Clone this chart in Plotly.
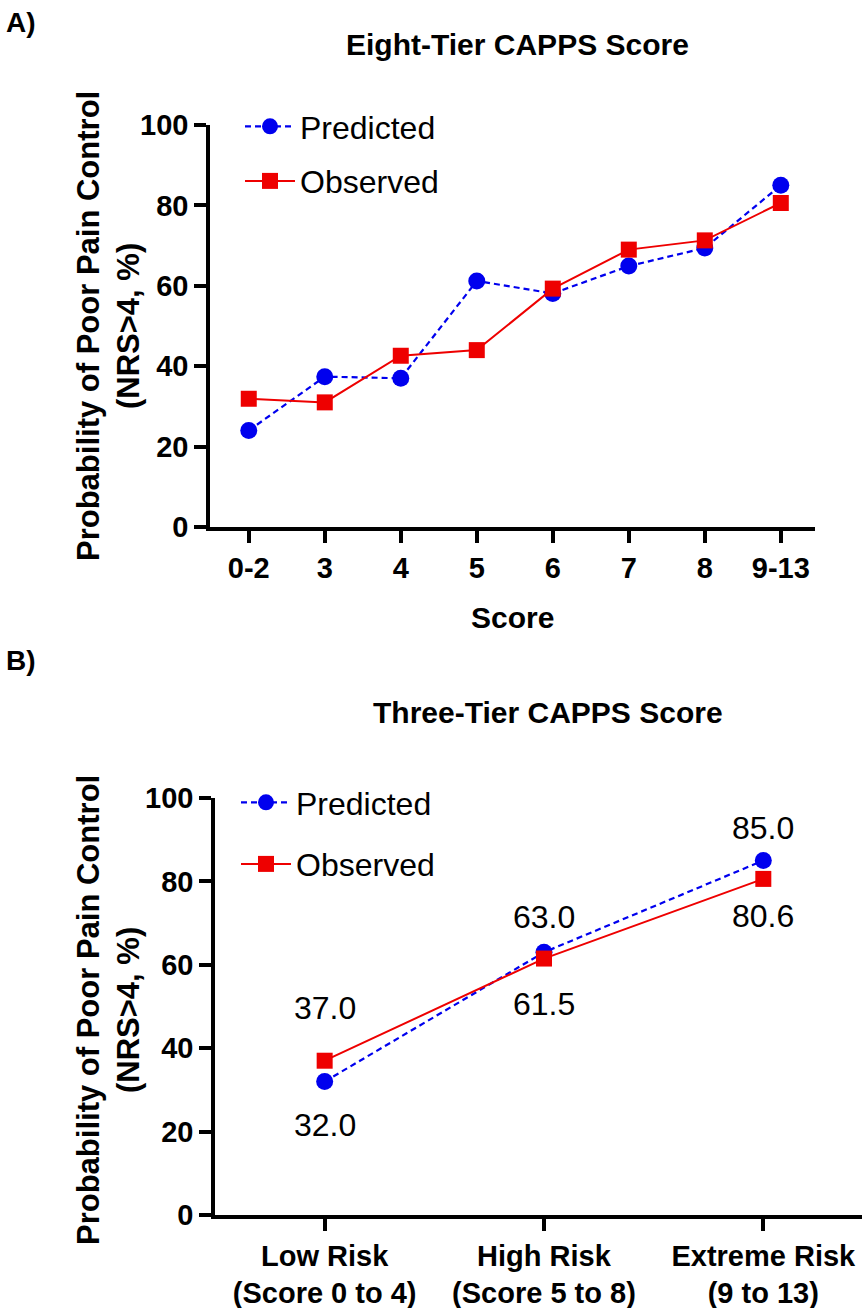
import plotly.graph_objects as go

# Eight-tier score: categories and probabilities (%)
eight_labels = ["0-2", "3", "4", "5", "6", "7", "8", "9-13"]
eight_predicted = [24.0, 37.4, 37.0, 61.2, 58.1, 64.9, 69.4, 85.0]
eight_observed = [31.9, 31.0, 42.6, 44.0, 59.3, 69.0, 71.3, 80.6]

# Three-tier score: risk groups and probabilities (%)
three_labels = ["Low Risk<br>(Score 0 to 4)", "High Risk<br>(Score 5 to 8)",
                "Extreme Risk<br>(9 to 13)"]
three_predicted = [32.0, 63.0, 85.0]
three_observed = [37.0, 61.5, 80.6]

# value-label offsets in screen pixels (positive = below the marker)
pred_label_offset = [43, -35, -33]
obs_label_offset = [-53, 45, 37]

W, H = 862, 1308
FONT = "Liberation Sans, Arial, Helvetica, sans-serif"
BLUE = "#0000ee"
RED = "#ee0000"


def px_x(p):
    return p / W


def px_y(p):
    return 1 - p / H


fig = go.Figure()

xa = list(range(len(eight_labels)))
xb = list(range(len(three_labels)))

fig.add_trace(go.Scatter(
    x=xa, y=eight_predicted, name="Predicted", mode="lines+markers",
    line=dict(color=BLUE, width=2.2, dash="6px,4px"),
    marker=dict(symbol="circle", size=17, color=BLUE),
    xaxis="x", yaxis="y", legend="legend", cliponaxis=False,
    legendgroup="pa",
))
fig.add_trace(go.Scatter(
    x=xa, y=eight_observed, name="Observed", mode="lines+markers",
    line=dict(color=RED, width=2),
    marker=dict(symbol="square", size=16, color=RED),
    xaxis="x", yaxis="y", legend="legend", cliponaxis=False,
    legendgroup="oa",
))
fig.add_trace(go.Scatter(
    x=xb, y=three_predicted, name="Predicted", mode="lines+markers",
    line=dict(color=BLUE, width=2.2, dash="6px,4px"),
    marker=dict(symbol="circle", size=17, color=BLUE),
    xaxis="x2", yaxis="y2", legend="legend2", cliponaxis=False,
    legendgroup="pb",
))
fig.add_trace(go.Scatter(
    x=xb, y=three_observed, name="Observed", mode="lines+markers",
    line=dict(color=RED, width=2),
    marker=dict(symbol="square", size=16, color=RED),
    xaxis="x2", yaxis="y2", legend="legend2", cliponaxis=False,
    legendgroup="ob",
))

axis_common = dict(
    showline=True, linecolor="black", linewidth=3.5,
    ticks="outside", ticklen=12, tickwidth=3.5, tickcolor="black",
    showgrid=False, zeroline=False, automargin=False,
    tickfont=dict(family=FONT, size=29, color="black", weight="bold"),
)

fig.update_layout(
    width=W, height=H,
    margin=dict(l=0, r=0, t=0, b=0, autoexpand=False),
    paper_bgcolor="white", plot_bgcolor="white",
    showlegend=True,
    xaxis=dict(domain=[px_x(210), px_x(815)], range=[-0.51, 7.45],
               tickmode="array", tickvals=xa, ticktext=eight_labels,
               anchor="y", **axis_common),
    yaxis=dict(domain=[px_y(527), px_y(125)], range=[0, 100],
               tickmode="linear", tick0=0, dtick=20, anchor="x",
               **axis_common),
    xaxis2=dict(domain=[px_x(215), 1.0], range=[-0.5, 2.45],
                tickmode="array", tickvals=xb, ticktext=three_labels,
                anchor="y2", **axis_common),
    yaxis2=dict(domain=[px_y(1215), px_y(798)], range=[0, 100],
                tickmode="linear", tick0=0, dtick=20, anchor="x2",
                **axis_common),
    legend=dict(x=px_x(240), y=px_y(99), xanchor="left", yanchor="top",
                bgcolor="rgba(0,0,0,0)", font=dict(family=FONT, size=32, color="black"),
                tracegroupgap=10, itemwidth=50, traceorder="grouped"),
    legend2=dict(x=px_x(236), y=px_y(775), xanchor="left", yanchor="top",
                 bgcolor="rgba(0,0,0,0)", font=dict(family=FONT, size=32, color="black"),
                 tracegroupgap=17, itemwidth=50, traceorder="grouped"),
)

annotations = []


def text_ann(txt, x, y, size, bold=True, angle=0, xanchor="center"):
    annotations.append(dict(
        text=txt, x=px_x(x), y=px_y(y), xref="paper", yref="paper",
        showarrow=False, xanchor=xanchor, yanchor="middle", textangle=angle,
        font=dict(family=FONT, size=size, color="black",
                  weight="bold" if bold else "normal"),
    ))


# panel letters and titles
text_ann("A)", 4, 22, 28, xanchor="left")
text_ann("B)", 4, 660, 28, xanchor="left")
text_ann("Eight-Tier CAPPS Score", 517, 45, 30)
text_ann("Three-Tier CAPPS Score", 548, 712, 30)

# axis titles
text_ann("Score", 512, 617, 30)
for cy in (326, 1010):
    text_ann("Probability of Poor Pain Control<br>(NRS>4, %)", 108, cy, 31, angle=-90)

# value labels for the three-tier panel
for xi, v, off in zip(xb, three_predicted, pred_label_offset):
    annotations.append(dict(
        text=f"{v:.1f}", x=xi, y=v, xref="x2", yref="y2", showarrow=False,
        yshift=-off, font=dict(family=FONT, size=32, color="black"),
    ))
for xi, v, off in zip(xb, three_observed, obs_label_offset):
    annotations.append(dict(
        text=f"{v:.1f}", x=xi, y=v, xref="x2", yref="y2", showarrow=False,
        yshift=-off, font=dict(family=FONT, size=32, color="black"),
    ))

fig.update_layout(annotations=annotations)
fig.write_html("out.html")
